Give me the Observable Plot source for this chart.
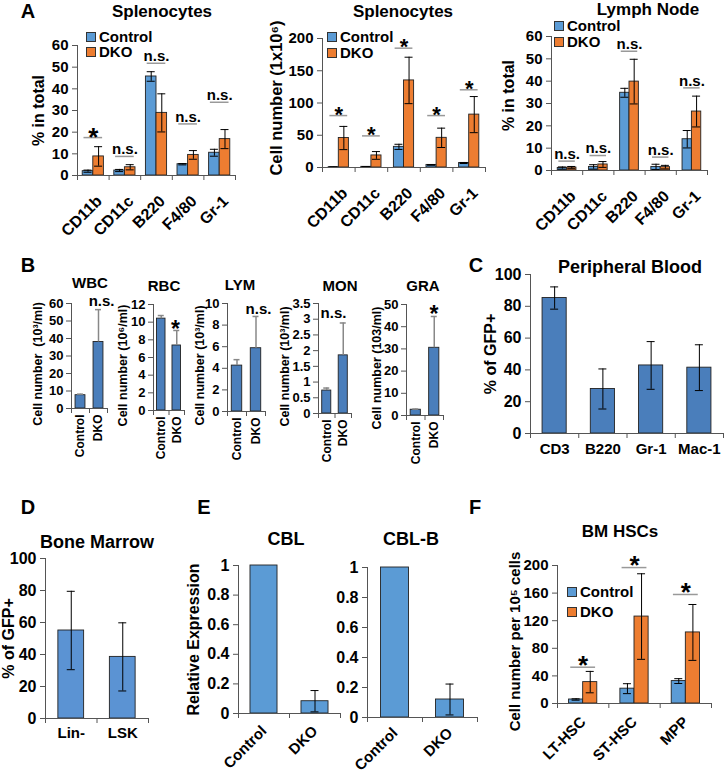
<!DOCTYPE html>
<html><head><meta charset="utf-8">
<script src="https://cdn.jsdelivr.net/npm/d3@7"></script>
<script src="https://cdn.jsdelivr.net/npm/@observablehq/plot@0.6"></script>
<style>
body{margin:0;background:#fff;}
#fig{position:relative;width:724px;height:774px;overflow:hidden;background:#fff;font-family:"Liberation Sans",Arial,sans-serif;font-weight:bold;color:#000;}
.lbl{position:absolute;white-space:nowrap;transform:translate(-50%,-50%);line-height:1;}
.leg{position:absolute;display:flex;align-items:center;white-space:nowrap;line-height:12px;}
.leg span{line-height:12px;}
.sw{width:10px;height:10px;border:1px solid #333;margin-right:3px;box-sizing:border-box;}
.plot{position:absolute;}
</style></head><body><div id="fig"></div>
<script>
// ---------------- DATA ----------------
const aCats = ["CD11b", "CD11c", "B220", "F4/80", "Gr-1"];
const groups = ["Control", "DKO"];

const a1Control = [2.0, 2.3, 45.7, 5.2, 10.5];
const a1ControlErr = [0.5, 0.5, 2.2, 0.3, 1.6];
const a1DKO = [8.8, 3.8, 28.9, 9.5, 16.8];
const a1DKOErr = [4.5, 1.2, 8.8, 2.0, 4.4];
const a1Sig = ["*", "n.s.", "n.s.", "n.s.", "n.s."];
const a1SigLevel = [17.5, 8.8, 51.8, 23.8, 33.8];

const a2Control = [0.6, 1.0, 32, 4, 7];
const a2ControlErr = [0.2, 0.3, 4, 0.5, 0.8];
const a2DKO = [45.7, 18.7, 135, 46, 82];
const a2DKOErr = [18, 6, 36, 15, 28];
const a2Sig = ["*", "*", "*", "*", "*"];
const a2SigLevel = [80.5, 49, 185, 80.5, 120.5];

const a3Control = [1.1, 1.6, 34.8, 1.6, 14];
const a3ControlErr = [0.5, 1.0, 2.0, 1.2, 3.9];
const a3DKO = [1.3, 2.7, 39.8, 1.5, 26.4];
const a3DKOErr = [0.5, 1.3, 10, 0.8, 6.9];
const a3Sig = ["n.s.", "n.s.", "n.s.", "n.s.", "n.s."];
const a3SigLevel = [4.2, 6.7, 53.4, 6.0, 37];

const bTitles = ["WBC", "RBC", "LYM", "MON", "GRA"];
const bControl = [7.6, 10.4, 4.25, 0.73, 2.6];
const bControlErr = [0.6, 0.35, 0.55, 0.08, 0.3];
const bDKO = [38, 7.36, 5.86, 1.85, 30.5];
const bDKOErr = [18.5, 1.7, 2.94, 1.03, 14.1];
const bYMax = [60, 12, 10, 3.5, 50];
const bYStep = [10, 2, 2, 0.5, 10];
const bYLabels = ["Cell number  (10³/ml)", "Cell number (10⁶/ml)", "Cell number (10³/ml)", "Cell number (10³/ml)", "Cell number (103/ml)"];
const bSig = ["n.s.", "*", "n.s.", "n.s.", "*"];

const cCats = ["CD3", "B220", "Gr-1", "Mac-1"];
const cValues = [85.2, 28, 42.8, 41.4];
const cErr = [7, 12.6, 15, 14.4];

const dCats = ["Lin-", "LSK"];
const dValues = [55, 38.5];
const dErr = [24.5, 21.3];

const eCats = ["Control", "DKO"];
const cblValues = [1, 0.083];
const cblErr = [0, 0.072];
const cblbValues = [1, 0.12];
const cblbErr = [0, 0.103];

const fCats = ["LT-HSC", "ST-HSC", "MPP"];
const fControl = [5.8, 21.5, 32.5];
const fControlErr = [1, 7.2, 3.5];
const fDKO = [31, 126, 103];
const fDKOErr = [15.5, 62, 40.5];
const fSig = ["*", "*", "*"];
const fSigLevel = [52.6, 197, 158];

// ---------------- STYLE / LAYOUT ----------------
const BLUE = "#5b9bd5", ORANGE = "#ed7d31", BLUE_B = "#4a7ebb", BLUE_D = "#5b93d3";
const fig = document.getElementById("fig");
const FONT = "'Liberation Sans', Arial, sans-serif";

function addText(t, cx, cy, fs) {
  const el = document.createElement("div");
  el.className = "lbl"; el.textContent = t;
  el.style.left = cx + "px"; el.style.top = cy + "px"; el.style.fontSize = fs + "px";
  fig.appendChild(el);
}
function addLegend(x, y1, y2, fs) {
  [[groups[0], BLUE, y1], [groups[1], ORANGE, y2]].forEach(([t, c, y]) => {
    const el = document.createElement("div");
    el.className = "leg";
    el.style.left = x + "px"; el.style.top = (y - 6) + "px"; el.style.fontSize = fs + "px"; el.style.height = "12px";
    el.innerHTML = `<div class="sw" style="background:${c}"></div><span>${t}</span>`;
    fig.appendChild(el);
  });
}

function drawChart(o) {
  const n = o.cats.length, nG = o.series.length;
  const band = (o.x1 - o.x0) / n;
  const fr = o.frac, w = fr / nG;
  const mL = 70, mR = 30, mT = 30, mB = 60;
  const W = o.x1 - o.x0 + mL + mR, H = o.y0 - o.yTop + mT + mB;
  const rows = o.series.flatMap((s, g) => s.values.map((v, i) => ({i, g, v, e: s.errs[i]})));
  const bx1 = d => d.i - fr / 2 + d.g * w;
  const bxc = d => bx1(d) + w / 2;
  const cap = o.capPx / band / 2;
  const errRows = rows.filter(d => d.e > 0);
  const axisColor = o.axisColor || "#555";
  const marks = [];
  o.series.forEach((s, g) => {
    marks.push(Plot.rect(rows.filter(d => d.g === g), {
      x1: bx1, x2: d => bx1(d) + w, y1: 0, y2: "v",
      fill: s.fill, stroke: o.barStroke || "#222", strokeWidth: 0.9
    }));
  });
  const errStyle = {stroke: o.errColor || "#000", strokeWidth: o.errWidth || 1};
  marks.push(Plot.ruleX(errRows, {x: bxc, y1: d => o.errUp ? d.v : d.v - d.e, y2: d => d.v + d.e, ...errStyle}));
  marks.push(Plot.ruleY(errRows, {y: d => d.v + d.e, x1: d => bxc(d) - cap, x2: d => bxc(d) + cap, ...errStyle}));
  if (!o.errUp) marks.push(Plot.ruleY(errRows, {y: d => d.v - d.e, x1: d => bxc(d) - cap, x2: d => bxc(d) + cap, ...errStyle}));
  // axes
  marks.push(Plot.ruleY([0], {stroke: axisColor}));
  marks.push(Plot.ruleX([-0.5], {y1: 0, y2: o.yMax, stroke: axisColor}));
  marks.push(Plot.axisX({ticks: d3.range(n + 1).map(i => i - 0.5), tickSize: 5, tickFormat: () => "", stroke: axisColor, label: null}));
  marks.push(Plot.axisX({ticks: d3.range(n), tickSize: 0, tickPadding: o.xPad, tickRotate: o.xRot, tickFormat: i => o.cats[i],
    fontSize: o.xFs, fontWeight: "bold", label: null, dx: o.xDx || 0, dy: o.xDy || 0}));
  marks.push(Plot.axisY({ticks: d3.range(0, o.yMax + o.yStep / 2, o.yStep), tickSize: 5, tickPadding: o.yPad ?? 3,
    tickFormat: d3.format("~g"), fontSize: o.tickFs, fontWeight: "bold", stroke: axisColor, label: null}));
  if (o.yLabel) marks.push(Plot.text([o.yLabel], {text: d => d, frameAnchor: "left", textAnchor: "middle", rotate: -90,
    dx: o.yLabelDx, dy: o.yLabelDy || 0, fontSize: o.yLabelFs, fontWeight: "bold"}));
  // significance with bracket line
  if (o.sig) {
    const sr = o.sig.map((s, i) => ({i, s, at: o.sigLevel[i]}));
    const inset = fr * 0.06;
    marks.push(Plot.ruleY(sr, {y: "at", x1: d => d.i - fr / 2 + inset, x2: d => d.i + fr / 2 - inset, stroke: "#999", strokeWidth: 1.5}));
    marks.push(Plot.text(sr.filter(d => d.s === "*"), {x: "i", y: "at", text: "s", fontSize: o.starFs, fontWeight: "bold", dy: o.starDy}));
    marks.push(Plot.text(sr.filter(d => d.s !== "*"), {x: "i", y: "at", text: "s", fontSize: o.nsFs, fontWeight: "bold", dy: -7}));
  }
  // free significance label (panel B)
  if (o.freeSig) {
    const fsr = [o.freeSig];
    marks.push(Plot.text(fsr, {x: "x", y: "y", text: "s", fontSize: o.freeSig.s === "*" ? 23 : 15, fontWeight: "bold", dy: o.freeSig.s === "*" ? 5 : 0}));
  }
  const svg = Plot.plot({
    width: W, height: H, marginLeft: mL, marginRight: mR, marginTop: mT, marginBottom: mB,
    x: {type: "linear", domain: [-0.5, n - 0.5]},
    y: {type: "linear", domain: [0, o.yMax]},
    style: {background: "transparent", overflow: "visible", fontFamily: FONT, fontWeight: "bold", color: "#000", maxWidth: "none"},
    marks
  });
  const div = document.createElement("div");
  div.className = "plot";
  div.style.left = (o.x0 - mL) + "px"; div.style.top = (o.yTop - mT) + "px";
  div.style.width = W + "px"; div.style.height = H + "px";
  div.appendChild(svg);
  fig.appendChild(div);
}

// ---------------- PANEL A ----------------
const aCommon = {cats: aCats, capPx: 8, xRot: -45, xPad: 13, xDx: 6, xDy: 10, xFs: 16, tickFs: 15, yPad: 4, yLabelFs: 16, starFs: 26, nsFs: 15};
drawChart({...aCommon, x0: 77, x1: 235, y0: 175, yTop: 45, yMax: 60, yStep: 10, frac: 0.67,
  series: [{values: a1Control, errs: a1ControlErr, fill: BLUE}, {values: a1DKO, errs: a1DKOErr, fill: ORANGE}],
  yLabel: "% in total", yLabelDx: -39, sig: a1Sig, sigLevel: a1SigLevel, starDy: 0});
drawChart({...aCommon, x0: 322, x1: 485, y0: 167, yTop: 38, yMax: 200, yStep: 50, frac: 0.62,
  series: [{values: a2Control, errs: a2ControlErr, fill: BLUE}, {values: a2DKO, errs: a2DKOErr, fill: ORANGE}],
  yLabel: "Cell number (1x10⁶)", yLabelDx: -46, yLabelDy: -5, yLabelFs: 16.5, sig: a2Sig, sigLevel: a2SigLevel, starFs: 22, starDy: -1});
drawChart({...aCommon, x0: 551, x1: 707, y0: 170, yTop: 36, yMax: 60, yStep: 10, frac: 0.6,
  series: [{values: a3Control, errs: a3ControlErr, fill: BLUE}, {values: a3DKO, errs: a3DKOErr, fill: ORANGE}],
  yLabel: "% in total", yLabelDx: -43, yLabelDy: -8, sig: a3Sig, sigLevel: a3SigLevel, starDy: 0});
addText("A", 28, 11, 20);
addText("Splenocytes", 162, 11, 17);
addText("Splenocytes", 403, 11, 17);
addText("Lymph Node", 648, 9, 17);
addLegend(86, 37, 52, 15);
addLegend(327, 37, 53, 15);
addLegend(554, 26, 42, 15);

// ---------------- PANEL B ----------------
const bLayout = [
  {x0: 71, x1: 107, y0: 408, yTop: 303, dx: -33.5, sx: 1.17, sy: 61.1, tx: 90, ty: 282},
  {x0: 153, x1: 184, y0: 410, yTop: 304, dx: -30.5, sx: 0.92, sy: 9.74, tx: 164, ty: 285},
  {x0: 227, x1: 265, y0: 411, yTop: 303, dx: -28, sx: 1.13, sy: 9.5, tx: 240, ty: 284},
  {x0: 318, x1: 351, y0: 413, yTop: 303, dx: -34, sx: 0.41, sy: 3.18, tx: 340, ty: 285},
  {x0: 406, x1: 443, y0: 415, yTop: 304, dx: -30, sx: 0.99, sy: 47.7, tx: 423, ty: 285}
];
bTitles.forEach((t, k) => {
  const L = bLayout[k];
  drawChart({cats: groups, x0: L.x0, x1: L.x1, y0: L.y0, yTop: L.yTop, yMax: bYMax[k], yStep: bYStep[k], frac: 0.55, capPx: 6,
    xRot: -90, xPad: 6, xFs: 12, tickFs: 13, yPad: 3, yLabel: bYLabels[k], yLabelDx: L.dx, yLabelDy: 8, yLabelFs: 12.5,
    series: [{values: [bControl[k], bDKO[k]], errs: [bControlErr[k], bDKOErr[k]], fill: BLUE_B}],
    errUp: true, errColor: "#888", errWidth: 1.5, freeSig: {x: L.sx, y: L.sy, s: bSig[k]}});
  addText(t, L.tx, L.ty, 15);
});
addText("B", 28, 265, 20);

// ---------------- PANEL C ----------------
drawChart({cats: cCats, x0: 530, x1: 723, y0: 433, yTop: 274, yMax: 100, yStep: 20, frac: 0.5, capPx: 8,
  xRot: 0, xPad: 10, xFs: 15, tickFs: 16, yPad: 4, yLabel: "% of GFP+", yLabelDx: -40, yLabelFs: 16,
  series: [{values: cValues, errs: cErr, fill: BLUE_B}]});
addText("C", 476, 265, 20);
addText("Peripheral Blood", 630, 267, 18);

// ---------------- PANEL D ----------------
drawChart({cats: dCats, x0: 45, x1: 148, y0: 718, yTop: 558, yMax: 100, yStep: 20, frac: 0.5, capPx: 8,
  xRot: 0, xPad: 9, xFs: 15, tickFs: 16, yPad: 4, yLabel: "% of GFP+", yLabelDx: -37, yLabelFs: 16,
  series: [{values: dValues, errs: dErr, fill: BLUE_D}]});
addText("D", 28, 507, 20);
addText("Bone Marrow", 97, 542, 18);

// ---------------- PANEL E ----------------
drawChart({cats: eCats, x0: 238, x1: 340, y0: 713, yTop: 565, yMax: 1, yStep: 0.2, frac: 0.53, capPx: 8,
  xRot: -45, xPad: 12, xDy: 3, xFs: 15, tickFs: 16, yPad: 4, yLabel: "Relative Expression", yLabelDx: -45, yLabelFs: 16,
  series: [{values: cblValues, errs: cblErr, fill: BLUE}]});
drawChart({cats: eCats, x0: 367, x1: 477, y0: 717, yTop: 567, yMax: 1, yStep: 0.2, frac: 0.51, capPx: 8,
  xRot: -45, xPad: 12, xDy: 1, xFs: 15, tickFs: 16, yPad: 4,
  series: [{values: cblbValues, errs: cblbErr, fill: BLUE}]});
addText("E", 204, 507, 20);
addText("CBL", 286, 539, 18);
addText("CBL-B", 411, 539, 18);

// ---------------- PANEL F ----------------
drawChart({cats: fCats, x0: 557, x1: 711, y0: 703, yTop: 565, yMax: 200, yStep: 40, frac: 0.55, capPx: 8,
  xRot: -45, xPad: 12, xDy: 4, xFs: 15, tickFs: 15, yPad: 4, yLabel: "Cell number per 10⁵ cells", yLabelDx: -42, yLabelDy: 7, yLabelFs: 15,
  series: [{values: fControl, errs: fControlErr, fill: BLUE}, {values: fDKO, errs: fDKOErr, fill: ORANGE}],
  sig: fSig, sigLevel: fSigLevel, starFs: 26, starDy: -2, nsFs: 15});
addText("F", 475, 507, 20);
addText("BM HSCs", 620, 531, 17);
addLegend(567, 592, 612, 15);
</script></body></html>
